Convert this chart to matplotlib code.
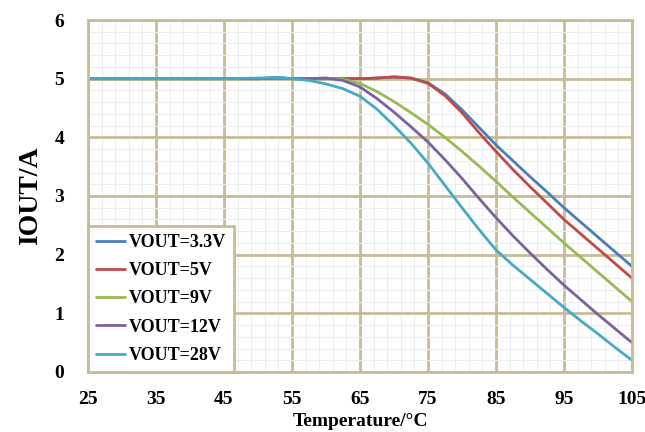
import numpy as np
import matplotlib.pyplot as plt
from matplotlib.ticker import FixedLocator

# Temperature points (°C) and output current (A)
temp = [25, 35, 45, 50, 53, 55, 57.5, 60, 62.5, 65, 67.5, 70, 72.5, 75, 77.5, 80,
        82.5, 85, 87.5, 90, 92.5, 95, 97.5, 100, 102.5, 105]

iout_3v3 = [5.0, 5.0, 5.0, 5.0, 5.02, 5.0, 5.0, 5.0, 5.0, 5.0, 5.01, 5.03, 5.01, 4.93,
            4.74, 4.47, 4.17, 3.87, 3.6, 3.33, 3.07, 2.8, 2.55, 2.3, 2.05, 1.8]
iout_5v = [5.0, 5.0, 5.0, 5.0, 5.01, 5.0, 5.0, 5.0, 5.0, 5.0, 5.01, 5.03, 5.01, 4.92,
           4.71, 4.42, 4.08, 3.76, 3.45, 3.16, 2.88, 2.6, 2.35, 2.1, 1.85, 1.6]
iout_9v = [5.0, 5.0, 5.0, 5.0, 5.01, 5.0, 5.0, 5.01, 4.99, 4.92, 4.78, 4.61, 4.42, 4.22,
           4.0, 3.76, 3.51, 3.25, 2.98, 2.72, 2.46, 2.2, 1.95, 1.7, 1.45, 1.2]
iout_12v = [5.0, 5.0, 5.0, 5.0, 5.01, 5.0, 5.0, 5.01, 4.97, 4.86, 4.66, 4.43, 4.18, 3.92,
            3.62, 3.3, 2.96, 2.63, 2.32, 2.03, 1.75, 1.48, 1.23, 0.98, 0.74, 0.5]
iout_28v = [5.0, 5.0, 5.0, 5.01, 5.02, 5.0, 4.97, 4.91, 4.83, 4.7, 4.48, 4.2, 3.9, 3.56,
            3.18, 2.8, 2.43, 2.08, 1.82, 1.58, 1.34, 1.1, 0.87, 0.65, 0.42, 0.2]

labels = ['VOUT=3.3V', 'VOUT=5V', 'VOUT=9V', 'VOUT=12V', 'VOUT=28V']
colors = ['#4A7EBB', '#BE4B48', '#98B954', '#7D60A0', '#46AAC5']
series = [iout_3v3, iout_5v, iout_9v, iout_12v, iout_28v]

tan = '#C7BC96'

fig = plt.figure(figsize=(6.45, 4.32), dpi=100)
ax = fig.add_axes([0.1364, 0.1389, 0.8434, 0.8148])

for y, c, lab in zip(series, colors, labels):
    ax.plot(temp, y, color=c, lw=2.0, label=lab, solid_capstyle='round',
            solid_joinstyle='round')

ax.set_xlim(25, 105)
ax.set_ylim(0, 6)
ax.xaxis.set_major_locator(FixedLocator(np.arange(25, 106, 10)))
ax.xaxis.set_minor_locator(FixedLocator(np.arange(25, 106, 2)))
ax.yaxis.set_major_locator(FixedLocator(np.arange(0, 6.1, 1)))
ax.yaxis.set_minor_locator(FixedLocator(np.arange(0, 6.01, 0.2)))

ax.grid(which='minor', color='#EDEDED', lw=0.8)
ax.grid(which='major', color=tan, lw=2.0)
ax.set_axisbelow(True)
for s in ax.spines.values():
    s.set_color(tan)
    s.set_linewidth(2.0)

ax.tick_params(which='both', length=0)
ax.tick_params(axis='x', pad=14)
ax.tick_params(axis='y', pad=17)
for t in ax.get_xticklabels() + ax.get_yticklabels():
    t.set_fontfamily('Liberation Serif')
    t.set_fontweight('bold')
    t.set_fontsize(14)

ax.set_xlabel('Temperature/°C', fontfamily='Liberation Serif', fontweight='bold',
              fontsize=14, labelpad=3)
ax.set_ylabel('IOUT/A', fontfamily='Liberation Serif', fontweight='bold',
              fontsize=20, labelpad=8)

leg = ax.legend(loc='lower left', borderaxespad=0, fancybox=False, framealpha=1,
                edgecolor=tan, handlelength=1.6, handletextpad=0.2,
                labelspacing=0.62, borderpad=0.45,
                prop={'family': 'Liberation Serif', 'weight': 'bold', 'size': 13})
leg.get_frame().set_linewidth(2.0)

fig.savefig('out.png', dpi=100)
